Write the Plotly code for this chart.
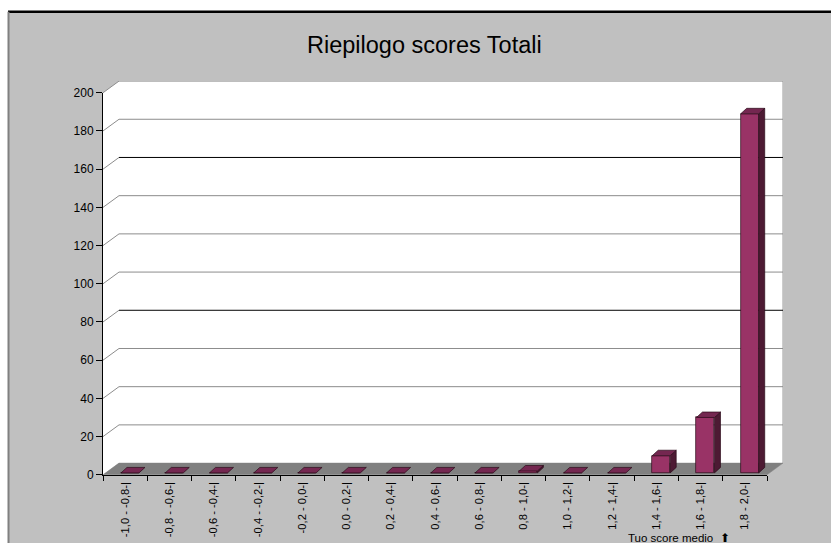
import plotly.graph_objects as go

# ---- data ----
categories = ["-1,0 - -0,8-|", "-0,8 - -0,6-|", "-0,6 - -0,4-|", "-0,4 - -0,2-|", "-0,2 - 0,0-|",
              "0,0 - 0,2-|", "0,2 - 0,4-|", "0,4 - 0,6-|", "0,6 - 0,8-|", "0,8 - 1,0-|",
              "1,0 - 1,2-|", "1,2 - 1,4-|", "1,4 - 1,6-|", "1,6 - 1,8-|", "1,8 - 2,0-|"]
values = [0, 0, 0, 0, 0, 0, 0, 0, 0, 1, 0, 0, 9, 29, 188]
y_ticks = [0, 20, 40, 60, 80, 100, 120, 140, 160, 180, 200]
title_text = "Riepilogo scores Totali"
note_text = "Tuo score medio  ⬆"

# ---- geometry (pixels -> data units) ----
W, H = 831, 550
X_LEFT, X_FRONT_RIGHT, X_BACK_RIGHT = 103, 767, 783
Y_ZERO, Y_200 = 480, 88
PX_CAT = (X_FRONT_RIGHT - X_LEFT) / len(categories)
PX_UNIT = (Y_ZERO - Y_200) / 200.0
DXW = 16 / PX_CAT      # wall depth x
DYW = 12 / PX_UNIT     # wall depth y
Y_TOP = Y_200 - 12
BW = 18 / PX_CAT       # bar width
BOFF = -0.5 + 18 / PX_CAT
BDX = 6 / PX_CAT
BDY = 5.6 / PX_UNIT
BASE = 1.0
XR = [-0.5, len(categories) - 0.5 + (X_BACK_RIGHT - X_FRONT_RIGHT) / PX_CAT]
YR = [0, (Y_ZERO - Y_TOP) / PX_UNIT]

FRONT = "#993366"
SIDE = "#4d1a33"
TOP = "#742750"
EDGE = "#2a0a18"
FONT = "Liberation Sans, Arial, sans-serif"

fig = go.Figure()

# front faces
fig.add_trace(go.Bar(
    x=list(range(len(values))), y=values, base=BASE, width=BW, offset=BOFF,
    marker=dict(color=FRONT, line=dict(color=EDGE, width=0.7)),
    hoverinfo="skip", showlegend=False))

# side + top faces
for i, v in enumerate(values):
    l = i + BOFF
    r = l + BW
    b = BASE
    t = BASE + v
    if v > 0:
        fig.add_trace(go.Scatter(
            x=[r, r + BDX, r + BDX, r, r], y=[b, b + BDY, t + BDY, t, b],
            mode="lines", fill="toself", fillcolor=SIDE,
            line=dict(color=EDGE, width=0.7), hoverinfo="skip", showlegend=False))
    fig.add_trace(go.Scatter(
        x=[l, r, r + BDX, l + BDX, l], y=[t, t, t + BDY, t + BDY, t],
        mode="lines", fill="toself", fillcolor=TOP,
        line=dict(color=EDGE, width=0.7), hoverinfo="skip", showlegend=False))

# dummy trace for the axis subplot
fig.add_trace(go.Scatter(x=[0], y=[0], xaxis="x2", yaxis="y2", mode="markers",
                         marker=dict(opacity=0), hoverinfo="skip", showlegend=False))

shapes = []
# chart area background and borders
TOPB = 5
shapes.append(dict(type="rect", xref="paper", yref="paper", x0=8 / W, x1=1, y0=0, y1=(H - TOPB) / H,
                   fillcolor="#c0c0c0", line=dict(width=0), layer="below"))
shapes.append(dict(type="line", xref="paper", yref="paper", x0=8 / W, x1=1, y0=(H - TOPB) / H, y1=(H - TOPB) / H,
                   line=dict(color="#000000", width=2.5), layer="below"))
shapes.append(dict(type="line", xref="paper", yref="paper", x0=8.5 / W, x1=8.5 / W, y0=0, y1=(H - TOPB) / H,
                   line=dict(color="#808080", width=2), layer="below"))

xb0 = -0.5 + DXW
xb1 = len(categories) - 0.5 + DXW
xf1 = len(categories) - 0.5
# side wall
shapes.append(dict(type="path", xref="x", yref="y", layer="below",
                   path=f"M -0.5,0 L -0.5,200 L {xb0},{200 + DYW} L {xb0},{DYW} Z",
                   fillcolor="#ffffff", line=dict(width=0)))
# back wall
shapes.append(dict(type="rect", xref="x", yref="y", layer="below",
                   x0=xb0, x1=xb1, y0=DYW, y1=200 + DYW,
                   fillcolor="#ffffff", line=dict(width=0)))
shapes.append(dict(type="line", xref="x", yref="y", layer="below",
                   x0=xb1, x1=xb1, y0=DYW, y1=200 + DYW, line=dict(color="#9a9a9a", width=1)))
# floor
shapes.append(dict(type="path", xref="x", yref="y", layer="below",
                   path=f"M -0.5,0 L {xf1},0 L {xb1},{DYW} L {xb0},{DYW} Z",
                   fillcolor="#808080", line=dict(color="#808080", width=0.5)))
# gridlines
for v in y_ticks[1:]:
    col = "#000000" if v in (80, 160) else "#8c8c8c"
    shapes.append(dict(type="line", xref="x", yref="y", layer="below",
                       x0=xb0, x1=xb1, y0=v + DYW, y1=v + DYW, line=dict(color=col, width=1)))
    shapes.append(dict(type="line", xref="x", yref="y", layer="below",
                       x0=-0.5, x1=xb0, y0=v, y1=v + DYW, line=dict(color="#8c8c8c", width=1)))

fig.update_layout(
    width=W, height=H, autosize=False,
    margin=dict(l=0, r=0, t=0, b=0),
    paper_bgcolor="#ffffff", plot_bgcolor="rgba(0,0,0,0)",
    showlegend=False, bargap=0,
    shapes=shapes,
    font=dict(family=FONT, color="#000000"),
    xaxis=dict(domain=[X_LEFT / W, X_BACK_RIGHT / W], range=XR, anchor="y",
               tickmode="array", tickvals=list(range(len(categories))), ticktext=categories,
               tickangle=-90, ticks="", ticklabelstandoff=4,
               tickfont=dict(size=11.2, family=FONT, color="#000000"),
               showgrid=False, zeroline=False, showline=False, fixedrange=True),
    yaxis=dict(domain=[(H - Y_ZERO) / H, (H - Y_TOP) / H], range=YR, anchor="x",
               showticklabels=False, ticks="", showgrid=False, zeroline=False, showline=False),
    xaxis2=dict(domain=[X_LEFT / W, X_FRONT_RIGHT / W], range=[-0.5, len(categories) - 0.5], anchor="y2",
                tickmode="array", tickvals=[k - 0.5 for k in range(len(categories) + 1)],
                ticks="outside", ticklen=5, tickcolor="#000000", showticklabels=False,
                showline=True, linecolor="#000000", linewidth=1,
                showgrid=False, zeroline=False),
    yaxis2=dict(domain=[(H - Y_ZERO) / H, (H - Y_200) / H], range=[0, 200], anchor="x2",
                tickmode="array", tickvals=y_ticks, ticks="outside", ticklen=6, tickcolor="#000000",
                tickfont=dict(size=12, family=FONT, color="#000000"),
                showline=True, linecolor="#000000", linewidth=1,
                showgrid=False, zeroline=False),
    annotations=[
        dict(text=title_text, xref="paper", yref="paper", x=424 / W, y=(H - 39) / H,
             xanchor="center", yanchor="middle", showarrow=False,
             font=dict(size=23.5, family=FONT, color="#000000")),
        dict(text=note_text, xref="paper", yref="paper", x=627 / W, y=0, yshift=-2,
             xanchor="left", yanchor="bottom", showarrow=False, borderpad=0,
             font=dict(size=11.5, family=FONT, color="#000000")),
    ],
)

fig.write_html("out.html", config={"displayModeBar": False},
               post_script="document.body.style.margin='0';document.body.style.overflow='hidden';")
